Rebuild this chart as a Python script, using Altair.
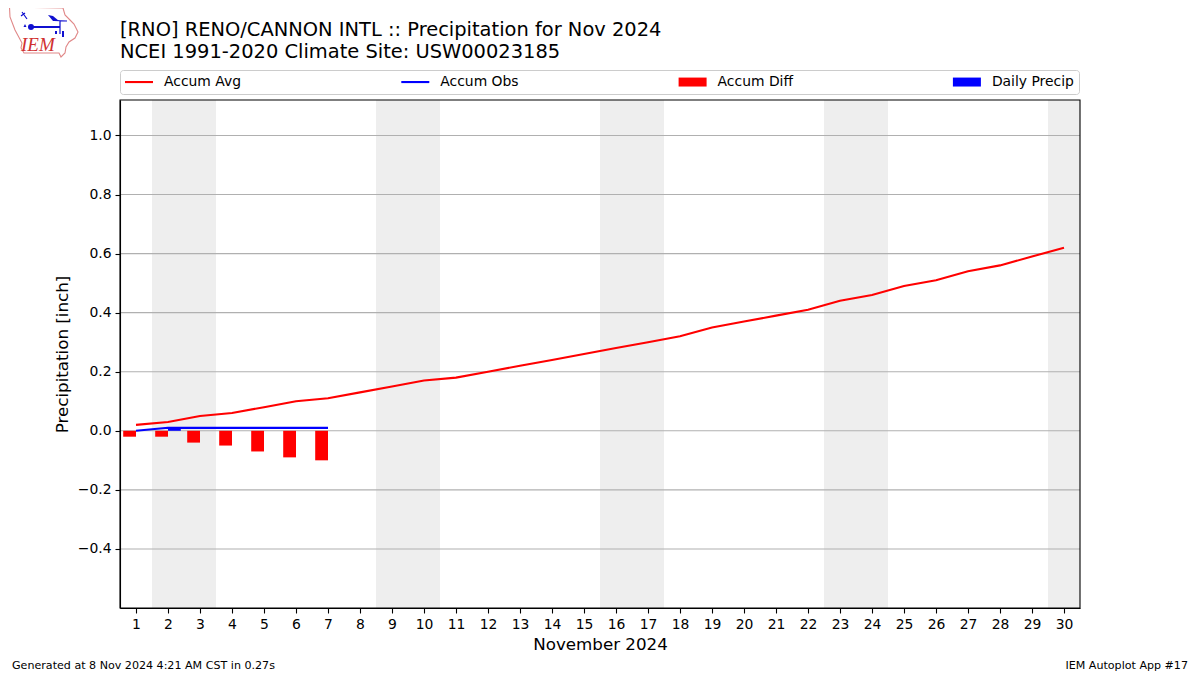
import base64
import altair as alt
import pandas as pd

FONT = "DejaVu Sans"
days = list(range(1, 31))
accum_avg = [0.02, 0.03, 0.05, 0.06, 0.08, 0.10, 0.11, 0.13, 0.15, 0.17, 0.18, 0.20, 0.22, 0.24, 0.26,
             0.28, 0.30, 0.32, 0.35, 0.37, 0.39, 0.41, 0.44, 0.46, 0.49, 0.51, 0.54, 0.56, 0.59, 0.62]
accum_obs = [0.0, 0.01, 0.01, 0.01, 0.01, 0.01, 0.01]
accum_diff = [-0.02, -0.02, -0.04, -0.05, -0.07, -0.09, -0.10]
daily_precip = [0.0, 0.01, 0.0, 0.0, 0.0, 0.0, 0.0]
weekend_start = [1.5, 8.5, 15.5, 22.5, 29.5]
weekend_end = [3.5, 10.5, 17.5, 24.5, 30.5]
y_ticks = [-0.4, -0.2, 0.0, 0.2, 0.4, 0.6, 0.8, 1.0]
series = ["Accum Avg", "Accum Obs", "Accum Diff", "Daily Precip"]
series_colors = ["#ff0000", "#0000ff", "#ff0000", "#0000ff"]
line_shape = "M-2,-0.15H2V0.15H-2Z"
bar_shape = "M-2,-0.64H2V0.64H-2Z"
series_shapes = [line_shape, line_shape, bar_shape, bar_shape]
title_lines = ["[RNO] RENO/CANNON INTL :: Precipitation for Nov 2024",
               "NCEI 1991-2020 Climate Site: USW00023185"]

logo_svg = """<svg xmlns='http://www.w3.org/2000/svg' viewBox='8 8 80 60' width='80' height='60'>
<path d='M9.5,7 L63,8 L65,15 L70,20 L74,24 L78,32 L75,38 L69,42 L66,47 L65,53 L61,57 L59,53 L24,53 L21,48 L22,43 L15,30 L10,17 Z' fill='white' stroke='#e08888' stroke-width='1.1'/>
<path d='M31,27 L60,27' stroke='#1010d0' stroke-width='2' fill='none'/>
<path d='M60,21 L60,34 M54,20.5 L67,21 M22,12 L27,19 M21,16 L25,13' stroke='#1010d0' stroke-width='1.2' fill='none'/>
<path d='M48,15 L53,16 L59,21 L53,21 Z' fill='#1010d0'/>
<circle cx='31' cy='27' r='3' fill='#1010d0'/>
<path d='M25,24 l1.5,3 l-3,0 Z M55,31 l2,0 l0,3 l-2,0 Z M62,31 l2,0 l0,6 l-2,0 Z' fill='#1010d0'/>
</svg>"""
logo_uri = "data:image/svg+xml;base64," + base64.b64encode(logo_svg.encode()).decode()

avg_df = pd.DataFrame({"day": days, "value": accum_avg})
obs_df = pd.DataFrame({"day": days[:7], "value": accum_obs, "diff": accum_diff, "daily": daily_precip})
week_df = pd.DataFrame({"start": weekend_start, "end": weekend_end})
grid_df = pd.DataFrame({"tick": y_ticks})
legend_df = pd.DataFrame({"series": series, "day": [1] * 4, "value": [0.0] * 4})
one = pd.DataFrame({"a": [1]})

x_scale = alt.Scale(domain=[0.5, 30.5], nice=False, zero=False)
y_scale = alt.Scale(domain=[-0.6, 1.12], nice=False, zero=False)
x_axis = alt.Axis(
    values=days, title="November 2024", labelAngle=0, grid=False, zindex=1, format="d",
    labelFont=FONT, labelFontSize=13.9, labelColor="black", labelPadding=4, labelFlush=False, labelOverlap=False,
    titleFont=FONT, titleFontSize=16.7, titleFontWeight="normal", titleColor="black", titlePadding=6,
    tickColor="black", tickWidth=1.1, tickSize=5, domainColor="black", domainWidth=1.1,
)
y_axis = alt.Axis(
    values=y_ticks, title="Precipitation [inch]", grid=False, zindex=1,
    labelExpr="replace(format(datum.value, '.1f'), '-', '\u2212')",
    labelFont=FONT, labelFontSize=13.9, labelColor="black", labelPadding=4, labelOverlap=False,
    titleFont=FONT, titleFontSize=16.7, titleFontWeight="normal", titleColor="black", titlePadding=6,
    tickColor="black", tickWidth=1.1, tickSize=5, domainColor="black", domainWidth=1.1,
)

X = alt.X("day:Q", scale=x_scale, axis=x_axis)
Y = alt.Y("value:Q", scale=y_scale, axis=y_axis)

shade = alt.Chart(week_df).mark_rect(color="#eeeeee").encode(
    x=alt.X("start:Q", scale=x_scale, axis=x_axis), x2="end:Q",
    y=alt.value(0), y2=alt.value(508))
grid = alt.Chart(grid_df).mark_rule(color="#b0b0b0", strokeWidth=1.1).encode(
    y=alt.Y("tick:Q", scale=y_scale, axis=y_axis))
diff_bars = alt.Chart(obs_df).transform_calculate(x0="datum.day - 0.4", b0="0").mark_rect(color="#ff0000").encode(
    x=alt.X("x0:Q", scale=x_scale, axis=x_axis), x2="day:Q",
    y=alt.Y("diff:Q", scale=y_scale, axis=y_axis), y2="b0:Q")
daily_bars = alt.Chart(obs_df).transform_calculate(x1="datum.day + 0.4", b0="0").mark_rect(color="#0000ff").encode(
    x=alt.X("day:Q", scale=x_scale, axis=x_axis), x2="x1:Q",
    y=alt.Y("daily:Q", scale=y_scale, axis=y_axis), y2="b0:Q")
avg_line = alt.Chart(avg_df).mark_line(color="#ff0000", strokeWidth=2.08).encode(x=X, y=Y)
obs_line = alt.Chart(obs_df).mark_line(color="#0000ff", strokeWidth=2.08).encode(x=X, y=Y)
legend_layer = alt.Chart(legend_df).mark_point(filled=True, size=0, opacity=1).encode(
    x=X, y=Y,
    color=alt.Color("series:N", scale=alt.Scale(domain=series, range=series_colors), legend=alt.Legend(
        title=None, orient="none", legendX=0, legendY=-30, columns=4, direction="horizontal",
        gridAlign="each", columnPadding=159.3, padding=5, symbolSize=196, symbolStrokeWidth=0, symbolOffset=7,
        labelFont=FONT, labelFontSize=13.9, labelColor="black", labelOffset=18,
        strokeColor="#cccccc", fillColor="white", cornerRadius=3)),
    shape=alt.Shape("series:N", scale=alt.Scale(domain=series, range=series_shapes)),
)
frame = alt.Chart(one).mark_rect(fill=None, stroke="black", strokeWidth=1.1).encode(
    x=alt.value(0), x2=alt.value(960), y=alt.value(0), y2=alt.value(508))
logo = alt.Chart(one).mark_image(url=logo_uri, width=80, height=60, align="left", baseline="top").encode(
    x=alt.value(-112), y=alt.value(-92))
logo_text = alt.Chart(one).mark_text(
    text="IEM", font="Liberation Serif", fontStyle="italic", fontSize=19, color="#d03030", align="left").encode(
    x=alt.value(-99), y=alt.value(-55))
foot_left = alt.Chart(one).mark_text(
    text="Generated at 8 Nov 2024 4:21 AM CST in 0.27s", font=FONT, fontSize=11.1, color="black", align="left").encode(
    x=alt.value(-108), y=alt.value(566))
foot_right = alt.Chart(one).mark_text(
    text="IEM Autoplot App #17", font=FONT, fontSize=11.1, color="black", align="right").encode(
    x=alt.value(1068), y=alt.value(566))

chart = alt.layer(
    shade, grid, diff_bars, daily_bars, avg_line, obs_line, legend_layer, frame,
    logo, logo_text, foot_left, foot_right,
).resolve_scale(x="shared", y="shared").properties(
    width=960, height=508,
    padding={"left": 112, "top": 92, "right": 112, "bottom": 64},
    autosize=alt.AutoSizeParams(type="none"),
    title=alt.TitleParams(text=title_lines, anchor="start", frame="group", font=FONT, fontSize=19.44,
                          fontWeight="normal", color="black", lineHeight=22, offset=-54),
).configure_view(stroke=None)

chart.save("out.html", embed_options={"renderer": "svg", "actions": False})
